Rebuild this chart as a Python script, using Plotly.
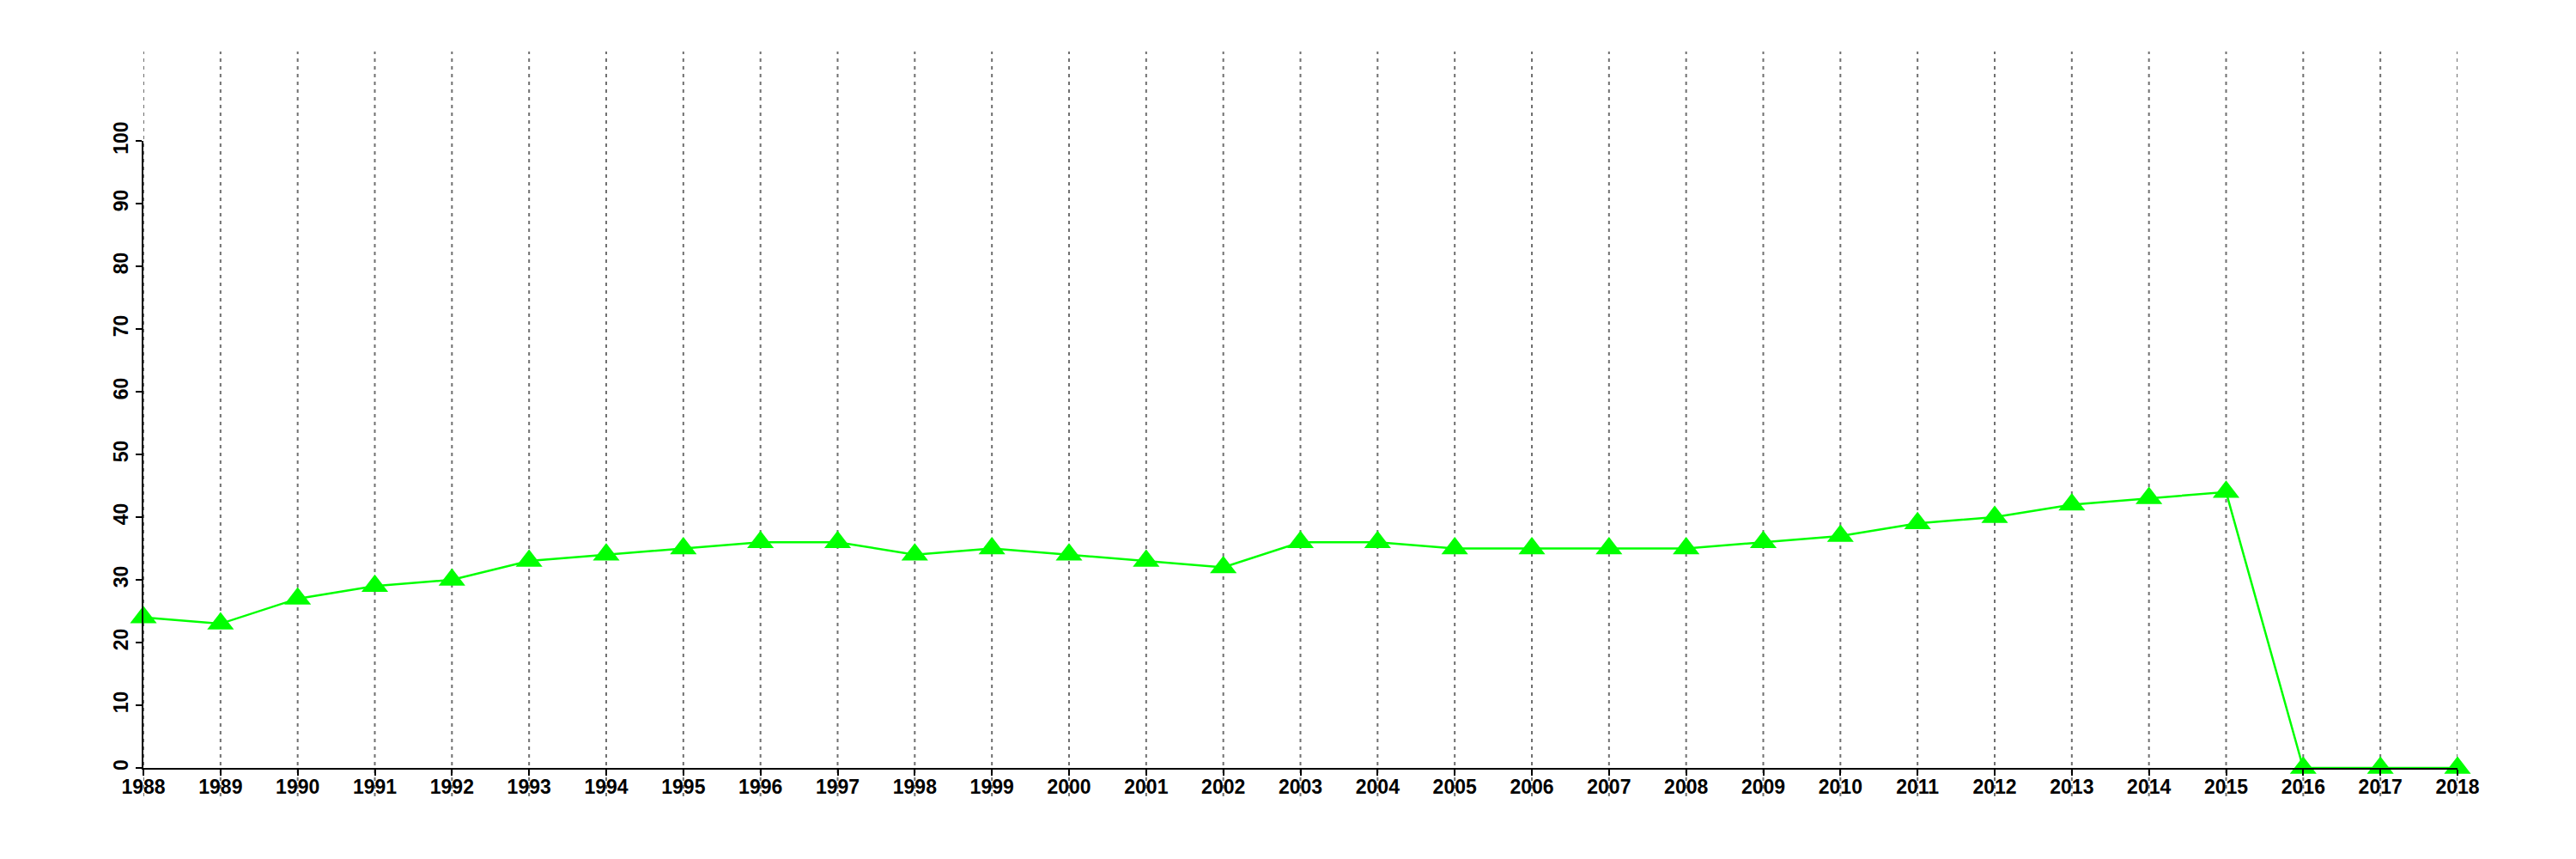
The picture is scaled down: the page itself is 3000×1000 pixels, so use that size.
import plotly.graph_objects as go

years = list(range(1988, 2019))
values = [24, 23, 27, 29, 30, 33, 34, 35, 36, 36, 34, 35, 34, 33, 32, 36, 36,
          35, 35, 35, 35, 36, 37, 39, 40, 42, 43, 44, 0, 0, 0]
y_ticks = [0, 10, 20, 30, 40, 50, 60, 70, 80, 90, 100]

# the page body has an 8px margin; size the figure so it fits the window
BODY = 8
W, H = 3000 - 2 * BODY, 1000 - 2 * BODY
plot_left, plot_right, plot_top, plot_bottom = 166.7, 2861.7, 164, 894
L = plot_left - BODY
R = (BODY + W) - plot_right
T = plot_top - BODY
B = (BODY + H) - plot_bottom
plot_h = plot_bottom - plot_top

fig = go.Figure()
fig.add_trace(go.Scatter(
    x=years, y=values, mode="lines+markers",
    line=dict(color="#00FF00", width=2.5),
    marker=dict(symbol="triangle-up", size=27, color="#00FF00", line=dict(width=0)),
    cliponaxis=False, showlegend=False, hoverinfo="skip",
))

shapes = []
for yr in years:
    shapes.append(dict(
        type="line", xref="x", yref="paper", x0=yr, x1=yr,
        y0=-(927 - plot_bottom) / plot_h, y1=1 + (plot_top - 60) / plot_h,
        line=dict(color="#707070", width=2, dash="4px,5px"), layer="below",
    ))

font = dict(family="Liberation Sans, Arial, sans-serif", size=23, color="black",
            weight="bold")
fig.update_layout(
    width=W, height=H, autosize=False,
    margin=dict(l=L, r=R, t=T, b=B, pad=0, autoexpand=False),
    paper_bgcolor="white", plot_bgcolor="white",
    shapes=shapes, font=font,
    xaxis=dict(range=[1988, 2018], tickmode="array", tickvals=years,
               ticktext=[str(y) for y in years], showgrid=False, zeroline=False,
               showline=True, linecolor="black", linewidth=2, automargin=False,
               ticks="outside", ticklen=7, tickwidth=2, tickcolor="black",
               tickfont=font, tickangle=0, ticklabelstandoff=-7),
    yaxis=dict(range=[0, 100], tickmode="array", tickvals=y_ticks,
               ticktext=[str(v) for v in y_ticks], showgrid=False, zeroline=False,
               showline=True, linecolor="black", linewidth=2, automargin=False,
               ticks="outside", ticklen=7, tickwidth=2, tickcolor="black",
               tickfont=font, tickangle=-90),
)
fig.write_html("out.html")
